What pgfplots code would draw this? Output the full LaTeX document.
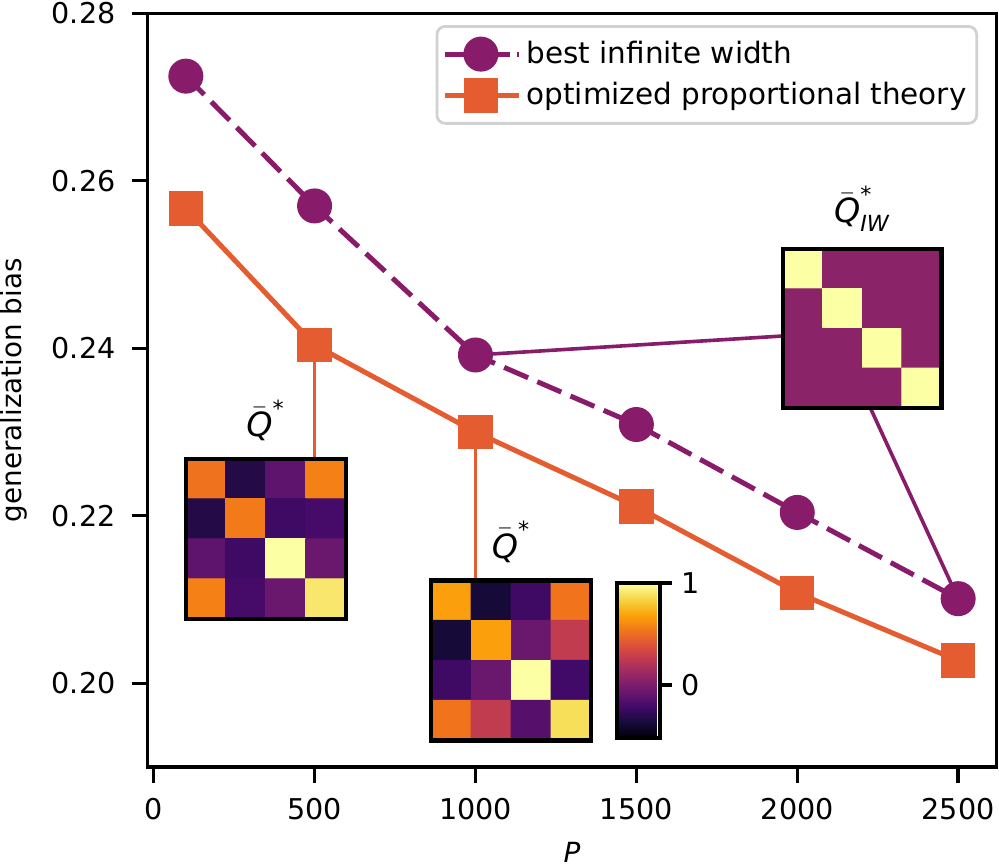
\documentclass[border=0pt]{standalone}
\usepackage{pgfplots}
\pgfplotsset{compat=1.18}
\usepackage{amsmath}
\usepackage{fontspec}
\setmainfont{DejaVu Sans}
\definecolor{cpurple}{RGB}{136,28,106}
\definecolor{corange}{RGB}{229,92,48}
\pgfplotsset{colormap={inferno}{rgb255=(0,0,4) rgb255=(22,11,57) rgb255=(66,10,104) rgb255=(106,23,110) rgb255=(147,38,103) rgb255=(188,55,84) rgb255=(221,81,58) rgb255=(243,120,25) rgb255=(252,165,10) rgb255=(246,215,70) rgb255=(252,255,164)}}
\pgfplotsset{inset/.style={scale only axis, width=57.6pt, height=57.6pt,
  xmin=-0.5, xmax=3.5, ymin=-0.5, ymax=3.5, y dir=reverse,
  xtick=\empty, ytick=\empty, axis on top,
  axis line style={black, line width=1.5pt},
  colormap name=inferno, point meta min=-0.52, point meta max=1,
  anchor=center,
  title style={font=\fontsize{12}{14}\selectfont, yshift=-3pt}}}
\newcommand{\Qb}{$\bar{\textit{Q}}^{\text{*}}$}
\begin{document}
\begin{tikzpicture}
\begin{axis}[name=main,
  scale only axis, width=305.8pt, height=271.3pt,
  xmin=-20, xmax=2620, ymin=0.19, ymax=0.28,
  xtick={0,500,1000,1500,2000,2500},
  ytick={0.20,0.22,0.24,0.26,0.28},
  tick pos=left, tick align=outside,
  major tick length=5.6pt,
  every tick/.style={black, line width=1.2pt},
  axis line style={black, line width=1.2pt},
  tick label style={font=\fontsize{10.3}{12}\selectfont},
  /pgf/number format/assume math mode=true,
  /pgf/number format/1000 sep={},
  yticklabel style={xshift=-2.3pt, /pgf/number format/.cd, fixed, fixed zerofill, precision=2},
  xticklabel style={yshift=-2pt},
  scaled y ticks=false,
  xlabel={\textit{P}}, ylabel={generalization bias},
  label style={font=\fontsize{10.3}{12}\selectfont},
  every axis y label/.style={at={(axis description cs:-0.157,0.5)}, rotate=90, anchor=center},
  every axis x label/.style={at={(axis description cs:0.5,-0.113)}, anchor=center},
  legend style={at={(0.978,0.9845)}, anchor=north east, draw=black!18, line width=1pt, rounded corners=3pt,
    font=\fontsize{10.6}{12.5}\selectfont, inner xsep=2pt, inner ysep=3.5pt, row sep=2pt,
    nodes={inner sep=1.7pt}},
  legend cell align=left,
  legend image code/.code={\draw[mark repeat=2,mark phase=2,#1] plot coordinates {(0pt,0pt) (10.45pt,0pt) (20.9pt,0pt)}; \path (-2.5pt,0pt) -- (24.3pt,0pt);},
]
\coordinate (c1) at (axis cs:348,0.21723);
\coordinate (c2) at (axis cs:1110.9,0.20272);
\coordinate (c3) at (axis cs:2202,0.24236);
\addplot[corange, line width=1.3pt, forget plot] coordinates {(500,0.2404) (500,0.22678)};
\addplot[corange, line width=1.3pt, forget plot] coordinates {(1000,0.2300) (1000,0.21233)};
\addplot[cpurple, line width=1.3pt, forget plot] coordinates {(1000,0.2392) (1955.6,0.24147)};
\addplot[cpurple, line width=1.3pt, forget plot] coordinates {(2500,0.2101) (2225.8,0.23299)};
\addplot[cpurple, line width=1.8pt, dash pattern=on 9.4pt off 3.6pt, mark=*, mark size=5.4pt, mark options={solid}]
  coordinates {(100,0.2725) (500,0.2570) (1000,0.2392) (1500,0.2309) (2000,0.2204) (2500,0.2101)};
\addlegendentry{best infinite width}
\addplot[corange, line width=1.8pt, mark=square*, mark size=5.3pt, mark options={solid}]
  coordinates {(100,0.2567) (500,0.2404) (1000,0.2300) (1500,0.2211) (2000,0.2108) (2500,0.2027)};
\addlegendentry{optimized proportional theory}
\end{axis}

\begin{axis}[inset, at={(c1)}, title={\Qb}]
\addplot[matrix plot*, mesh/cols=4, point meta=explicit] table[meta=c] {
x y c
0 0 0.52
1 0 -0.32
2 0 -0.11
3 0 0.57
0 1 -0.32
1 1 0.55
2 1 -0.23
3 1 -0.20
0 2 -0.11
1 2 -0.23
2 2 1.00
3 2 -0.064
0 3 0.57
1 3 -0.20
2 3 -0.064
3 3 0.91
};
\end{axis}

\begin{axis}[inset, at={(c2)}, title={\Qb},
  colorbar right,
  colorbar style={scale only axis, width=15.5pt, height=55.8pt,
    at={(parent axis.east)}, anchor=west, xshift=0.7pt,
    ytick={0,1}, major tick length=4.3pt, tick align=outside, ytick pos=right,
    every tick/.style={black, line width=1.2pt},
    axis line style={black, line width=1.5pt},
    yticklabel style={font=\fontsize{10.3}{12}\selectfont},
    /pgf/number format/assume math mode=true}]
\addplot[matrix plot*, mesh/cols=4, point meta=explicit] table[meta=c] {
x y c
0 0 0.68
1 0 -0.37
2 0 -0.23
3 0 0.53
0 1 -0.37
1 1 0.68
2 1 -0.064
3 1 0.27
0 2 -0.23
1 2 -0.064
2 2 1.00
3 2 -0.216
0 3 0.53
1 3 0.27
2 3 -0.14
3 3 0.88
};
\end{axis}

\begin{axis}[inset, at={(c3)}, width=57pt, height=57pt, title={$\bar{\textit{Q}}^{\text{*}}_{\textit{IW}}$}]
\addplot[matrix plot*, mesh/cols=4, point meta=explicit] table[meta=c] {
x y c
0 0 1.00
1 0 0.058
2 0 0.058
3 0 0.058
0 1 0.058
1 1 1.00
2 1 0.058
3 1 0.058
0 2 0.058
1 2 0.058
2 2 1.00
3 2 0.058
0 3 0.058
1 3 0.058
2 3 0.058
3 3 1.00
};
\end{axis}
\pgfresetboundingbox
\path ([shift={(-53.0pt,-35.3pt)}]main.south west) rectangle ([shift={(0.8pt,4.8pt)}]main.north east);
\end{tikzpicture}
\end{document}
